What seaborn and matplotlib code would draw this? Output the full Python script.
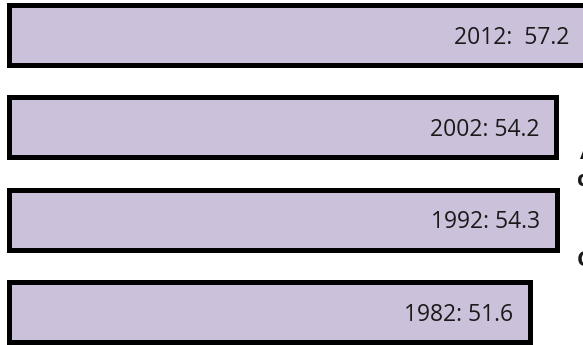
import pandas as pd
import seaborn as sns
import matplotlib.pyplot as plt

years = ['2012', '2002', '1992', '1982']
values = [57.2, 54.2, 54.3, 51.6]
labels = ['2012:  57.2', '2002: 54.2', '1992: 54.3', '1982: 51.6']
side_text = ['A', 'c', 'C']

sns.set_style('white')
plt.rcParams['font.family'] = ['Open Sans', 'DejaVu Sans']

data = pd.DataFrame({'year': years, 'value': values})

fig = plt.figure(figsize=(5.83, 3.45), dpi=100)
ax = fig.add_axes([0, 0, 1, 1])
sns.barplot(data=data, x='value', y='year', orient='h', color='#CCC1DA',
            saturation=1, edgecolor='black', linewidth=3.6, width=0.65, ax=ax)

for i, (v, lab) in enumerate(zip(values, labels)):
    ax.text(v - 1.7, i + 0.03, lab, ha='right', va='center',
            fontsize=16.5, color='#1a1a1a')

ax.set_xlim(-0.891, 56.83)
ax.set_ylim(3.359, -0.379)
ax.axis('off')

# bits of a bold text box cut off at the right edge
for t, (x, y) in zip(side_text, [(579.5, 159), (577, 186), (576.5, 266)]):
    fig.text(x / 583, 1 - y / 345, t, ha='left', va='baseline',
             fontsize=16, fontweight='bold', color='#1a1a1a')

fig.savefig('out.png', dpi=100)
